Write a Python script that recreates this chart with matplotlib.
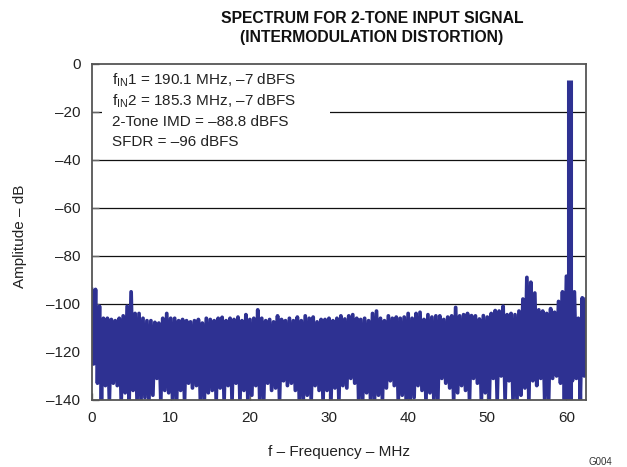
import numpy as np
import matplotlib
matplotlib.use("Agg")
import matplotlib.pyplot as plt
from matplotlib.patches import Rectangle

plt.rcParams['font.family'] = ['Liberation Sans', 'DejaVu Sans']
plt.rcParams['mathtext.fontset'] = 'custom'
plt.rcParams['mathtext.rm'] = 'Liberation Sans'
plt.rcParams['mathtext.it'] = 'Liberation Sans'

# FFT bins are 0.5 MHz apart for the peaks; the troughs sit halfway between
BIN_STEP = 0.5

# noise floor peaks, 0 .. 62.5 MHz (dB)
peak_db = [
    -94, -94, -101, -106, -106, -106.5, -107, -106, -105, -101,
    -95, -104, -104, -106, -107, -107, -107.7, -108, -106, -104,
    -106, -106, -107, -106.5, -107, -107.5, -107, -106.5, -108, -106,
    -106.5, -107, -106, -105.6, -107, -106, -106.5, -105.5, -107, -104.5,
    -106.5, -106, -102.5, -106, -107, -106.5, -107.5, -105, -106.5, -107,
    -106, -107, -105.5, -107, -105, -106, -105.5, -107.5, -106.5, -106.5,
    -106, -107, -106, -105, -106.3, -105, -104.5, -106, -106.5, -106,
    -107, -104, -103, -106, -107, -105, -106, -105.5, -106, -105.5,
    -104, -106, -104, -103.5, -106.5, -104.5, -105.5, -105, -105, -106.5,
    -105.5, -105, -101.5, -105, -104.5, -104, -104.9, -105, -106.3, -104.9,
    -105.5, -104, -102.8, -103, -101, -104.5, -104, -104.5, -103, -98,
    -89, -91, -95.5, -102.5, -103, -104, -102, -103.5, -99, -95,
    -88.5, -88.5, -95, -106, -97.5, -98,
]

# troughs between the peaks, 0.25 .. 62.25 MHz (dB)
trough_db = [
    -125, -133, -140, -134, -140, -133, -134, -140, -137, -140,
    -136, -140, -140, -139, -140, -138, -131, -140, -136, -137,
    -140, -140, -136, -140, -133, -135, -134, -140, -140, -137,
    -136, -140, -135, -140, -134, -140, -133, -140, -136, -140,
    -138, -134, -140, -140, -133, -136, -135, -140, -132, -134,
    -133, -136, -140, -140, -138, -140, -134, -136, -140, -136,
    -140, -135, -140, -134, -135, -131, -133, -140, -140, -137,
    -140, -140, -138, -140, -135, -132, -134, -140, -138, -140,
    -140, -139, -134, -136, -140, -137, -140, -140, -131, -133,
    -135, -140, -137, -134, -136, -140, -131, -133, -140, -137,
    -140, -131, -140, -130, -140, -132, -140, -140, -138, -135,
    -140, -132, -134, -131, -140, -140, -131, -130, -133, -140,
    -140, -132, -131, -140, -130,
]

# the two input tones after aliasing
tone_mhz = [60.2, 60.55]
tone_db = [-7, -7]

info_lines = [
    r'f$_{\mathrm{IN}}$1 = 190.1 MHz, –7 dBFS',
    r'f$_{\mathrm{IN}}$2 = 185.3 MHz, –7 dBFS',
    '2-Tone IMD = –88.8 dBFS',
    'SFDR = –96 dBFS',
]

TRACE = '#2E3192'

peak_f = np.arange(len(peak_db)) * BIN_STEP
trough_f = peak_f[:-1] + BIN_STEP / 2
freq = np.empty(len(peak_db) + len(trough_db))
amp = np.empty_like(freq)
freq[0::2], freq[1::2] = peak_f, trough_f
amp[0::2], amp[1::2] = peak_db, trough_db

fig = plt.figure(figsize=(6.27, 4.67), dpi=100)
ax = fig.add_axes([0.146, 0.1435, 0.789, 0.7205])

ax.plot(freq, amp, color=TRACE, lw=2.7, solid_joinstyle='round', zorder=3)
ax.vlines(tone_mhz, -140, tone_db, color=TRACE, lw=2.2, zorder=3)

ax.set_xlim(0, 62.5)
ax.set_ylim(-140, 0)
ax.set_xticks(range(0, 61, 10))
ax.set_yticks(range(-140, 1, 20))
ax.set_yticklabels([f'{v}'.replace('-', '–') for v in range(-140, 1, 20)])
ax.tick_params(direction='in', length=5, width=1, color='#666666',
               labelsize=11, labelcolor='#222222')
ax.tick_params(axis='x', pad=8)
ax.tick_params(axis='y', pad=8)

for v in range(-120, 0, 20):
    ax.axhline(v, color='#111111', lw=0.9, zorder=1)
for sp in ax.spines.values():
    sp.set_color('#555555')
    sp.set_linewidth(1.3)
    sp.set_zorder(5)

# white patch behind the annotation, hides part of the -20 gridline
ax.add_patch(Rectangle((1.3, -37), 28.8, 34, facecolor='white',
                       edgecolor='none', zorder=2))
for i, line in enumerate(info_lines):
    ax.text(2.6, -7 - i * 8.6, line, fontsize=11, color='#222222',
            va='center', ha='left', zorder=4)

ax.set_xlabel('f – Frequency – MHz', fontsize=11, color='#222222')
ax.set_ylabel('Amplitude – dB', fontsize=11, color='#222222')
ax.xaxis.set_label_coords(0.5, -0.135)
ax.yaxis.set_label_coords(-0.13, 0.485)

fig.text(372 / 627, 1 - 11 / 467,
         'SPECTRUM FOR 2-TONE INPUT SIGNAL\n(INTERMODULATION DISTORTION)',
         ha='center', va='top', fontsize=11.3, fontweight='bold',
         linespacing=1.3, color='#111111')
fig.text(600 / 627, 1 - 462 / 467, 'G004', fontsize=7, color='#333333',
         ha='center', va='center')

fig.savefig('out.png', dpi=100)
